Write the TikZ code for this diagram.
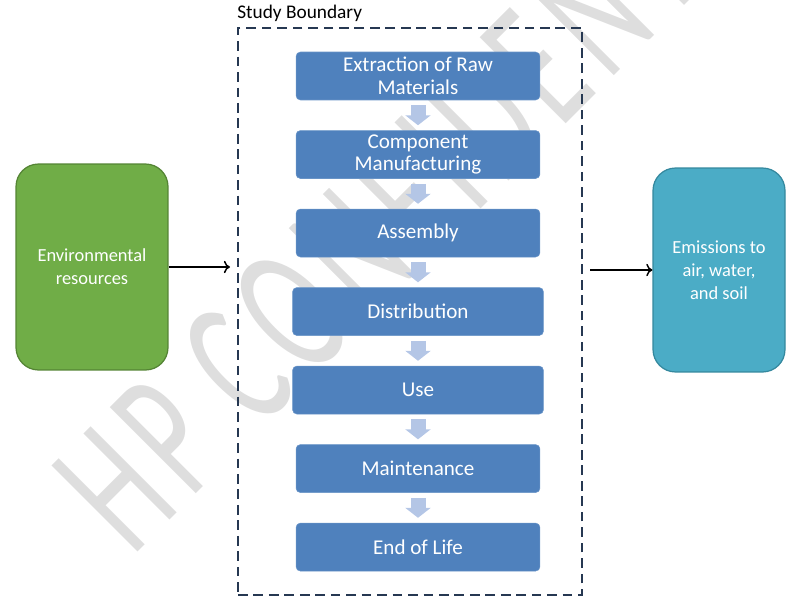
\documentclass[tikz,border=0pt]{standalone}
\usepackage{fontspec}
\setmainfont{Carlito}
\usepackage{tikz}
\usetikzlibrary{shapes, arrows.meta, positioning, backgrounds}
\definecolor{bleuetape}{RGB}{79,129,189}
\definecolor{bleufleche}{RGB}{180,198,230}
\definecolor{vertres}{RGB}{112,173,71}
\definecolor{vertbord}{RGB}{84,132,52}
\definecolor{turquoise}{RGB}{75,172,198}
\definecolor{turqbord}{RGB}{52,136,158}
\definecolor{limitebleu}{RGB}{38,56,82}
\tikzstyle{etape} = [rectangle, rounded corners = 2.5pt, minimum width = 4.88cm, minimum height = 0.96cm, align = center, inner sep = 1pt, fill = bleuetape, draw = bleuetape!85!white, line width = 0.3pt, text = white, font = \fontsize{12}{13}\selectfont]
\tikzstyle{cote} = [rectangle, rounded corners = 0.45cm, minimum width = 3.04cm, minimum height = 4.12cm, align = center, line width = 0.7pt, text = white, font = \fontsize{10.5}{13}\selectfont]
\tikzstyle{limite} = [rectangle, draw = limitebleu, line width = 1.2pt, dash pattern = on 5.5pt off 3.3pt, minimum width = 6.88cm, minimum height = 11.34cm, inner sep = 0pt]
\tikzstyle{fleche} = [-{Triangle[width = 0.5cm, length = 0.2cm]}, line width = 0.3cm, draw = bleufleche, shorten < = 0.1cm, shorten > = 0.1cm]
\tikzstyle{filigrane} = [text = black!13, font = \fontsize{108}{108}\selectfont\addfontfeature{LetterSpace = 10}, inner sep = 0pt]

\begin{document}
\begin{tikzpicture}[x = 0.02cm, y = -0.02cm, node distance = 0.6cm]
\useasboundingbox (0,0) rectangle (787,598);
% watermark behind everything
\node (wm) [filigrane, rotate = 45, xscale = 0.6, anchor = base west] at (132,558) {HP CONFIDENTIAL};

\node (boundary) [limite] at (410,311.5) {};
\node (label) [anchor = south west, inner sep = 0pt, yshift = 0.1cm, font = \fontsize{11}{13}\selectfont] at (boundary.north west) {Study Boundary};

\node (1) [etape] at (418,76) {Extraction of Raw\\Materials};
\node (2) [etape, below = of 1] {Component\\Manufacturing};
\node (3) [etape, below = of 2] {Assembly};
\node (4) [etape, below = of 3, minimum width = 5.02cm] {Distribution};
\node (5) [etape, below = of 4, minimum width = 5.02cm] {Use};
\node (6) [etape, below = of 5] {Maintenance};
\node (7) [etape, below = of 6] {End of Life};
\draw[fleche] (1) -- (2);
\draw[fleche] (2) -- (3);
\draw[fleche] (3) -- (4);
\draw[fleche] (4) -- (5);
\draw[fleche] (5) -- (6);
\draw[fleche] (6) -- (7);

\node (env) [cote, fill = vertres, draw = vertbord] at (92,267) {Environmental\\resources};
\node (emis) [cote, fill = turquoise, draw = turqbord, minimum width = 2.64cm, minimum height = 4.08cm] at (719,270) {Emissions to\\air, water,\\and soil};
\coordinate (entree) at (230,267);
\coordinate (sortie) at (590,270);
\draw[-{To[length = 3.5pt, width = 7pt]}, line width = 0.85pt] (env.east) -- (entree);
\draw[-{To[length = 3.5pt, width = 7pt]}, line width = 0.85pt] (sortie) -- (emis.west);
\end{tikzpicture}
\end{document}
